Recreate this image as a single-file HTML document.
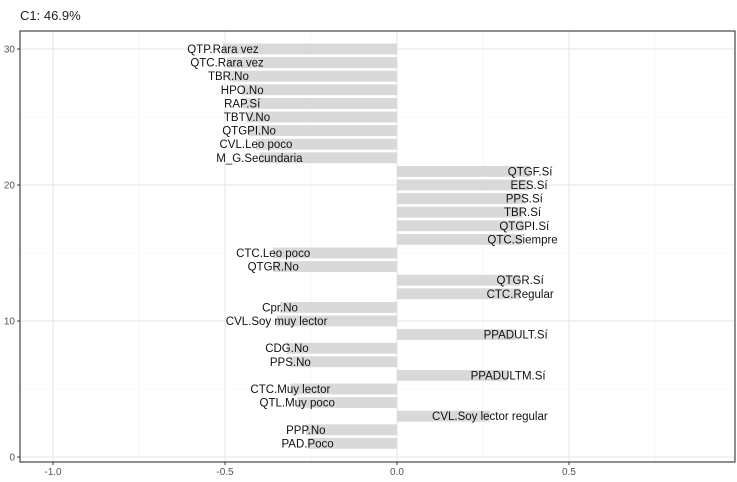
<!DOCTYPE html>
<html><head><meta charset="utf-8"><style>
body{margin:0;background:#fff;}
svg{display:block;font-family:"Liberation Sans",sans-serif;}
</style></head><body>
<svg id="chart" width="737" height="482">
<text x="20" y="20" font-size="13" fill="#222">C1: 46.9%</text>
<g id="grid"></g><g id="bars"></g><g id="labels"></g><g id="axes"></g>
<rect x="20" y="31" width="715" height="431" fill="none" stroke="#444" stroke-width="1.2"/>
</svg>
<script>
const categories=["PAD.Poco","PPP.No","CVL.Soy lector regular","QTL.Muy poco","CTC.Muy lector","PPADULTM.Sí","PPS.No","CDG.No","PPADULT.Sí","CVL.Soy muy lector","Cpr.No","CTC.Regular","QTGR.Sí","QTGR.No","CTC.Leo poco","QTC.Siempre","QTGPI.Sí","TBR.Sí","PPS.Sí","EES.Sí","QTGF.Sí","M_G.Secundaria","CVL.Leo poco","QTGPI.No","TBTV.No","RAP.Sí","HPO.No","TBR.No","QTC.Rara vez","QTP.Rara vez"];
const values=[-0.26,-0.265,0.27,-0.29,-0.31,0.323,-0.31,-0.32,0.345,-0.35,-0.34,0.358,0.358,-0.36,-0.36,0.365,0.37,0.365,0.37,0.384,0.387,-0.40,-0.41,-0.43,-0.436,-0.45,-0.45,-0.49,-0.494,-0.506];
const xTicks=[-1.0,-0.5,0.0,0.5];
const xTickLabels=["-1.0","-0.5","0.0","0.5"];
const yTicks=[0,10,20,30];
const NS="http://www.w3.org/2000/svg";
const X=v=>397+v*344;
const Y=v=>457-v*13.6;
const L=20,R=735,T=31,B=462;
function mk(tag,attrs,parent){const e=document.createElementNS(NS,tag);for(const k in attrs)e.setAttribute(k,attrs[k]);document.getElementById(parent).appendChild(e);return e;}
[-0.75,-0.25,0.25,0.75].forEach(v=>{const e=mk('line',{x1:X(v),x2:X(v),y1:T,y2:B,stroke:'#f2f2f2','stroke-width':0.6},'grid');});
[5,15,25].forEach(v=>{const e=mk('line',{x1:L,x2:R,y1:Y(v),y2:Y(v),stroke:'#f2f2f2','stroke-width':0.6},'grid');});
xTicks.forEach((v,i)=>{
 const g=mk('line',{x1:X(v),x2:X(v),y1:T,y2:B,stroke:'#e6e6e6','stroke-width':1.1},'grid');
 
 const t=mk('line',{x1:X(v),x2:X(v),y1:B,y2:B+3,stroke:'#333'},'axes');
 
 const l=mk('text',{x:X(v),y:B+13,'font-size':10,fill:'#555','text-anchor':'middle'},'axes');
 l.textContent=xTickLabels[i];
 
});
yTicks.forEach(v=>{
 const g=mk('line',{x1:L,x2:R,y1:Y(v),y2:Y(v),stroke:'#e6e6e6','stroke-width':1.1},'grid');
 
 const t=mk('line',{x1:L-3,x2:L,y1:Y(v),y2:Y(v),stroke:'#333'},'axes');
 
 const l=mk('text',{x:L-5,y:Y(v)+3.5,'font-size':10,fill:'#555','text-anchor':'end'},'axes');
 l.textContent=String(v);
 
});
categories.forEach((c,i)=>{
 const pos=i+1,v=values[i];
 const x0=Math.min(X(0),X(v)),w=Math.abs(X(v)-X(0)),h=0.8*13.6;
 const r=mk('rect',{x:x0,y:Y(pos)-h/2,width:w,height:h,fill:'#d9d9d9'},'bars');
 
 const t=mk('text',{x:X(v),y:Y(pos)+4,'font-size':11.5,fill:'#111','text-anchor':'middle'},'labels');
 t.textContent=c;
 
});
</script>
</body></html>
